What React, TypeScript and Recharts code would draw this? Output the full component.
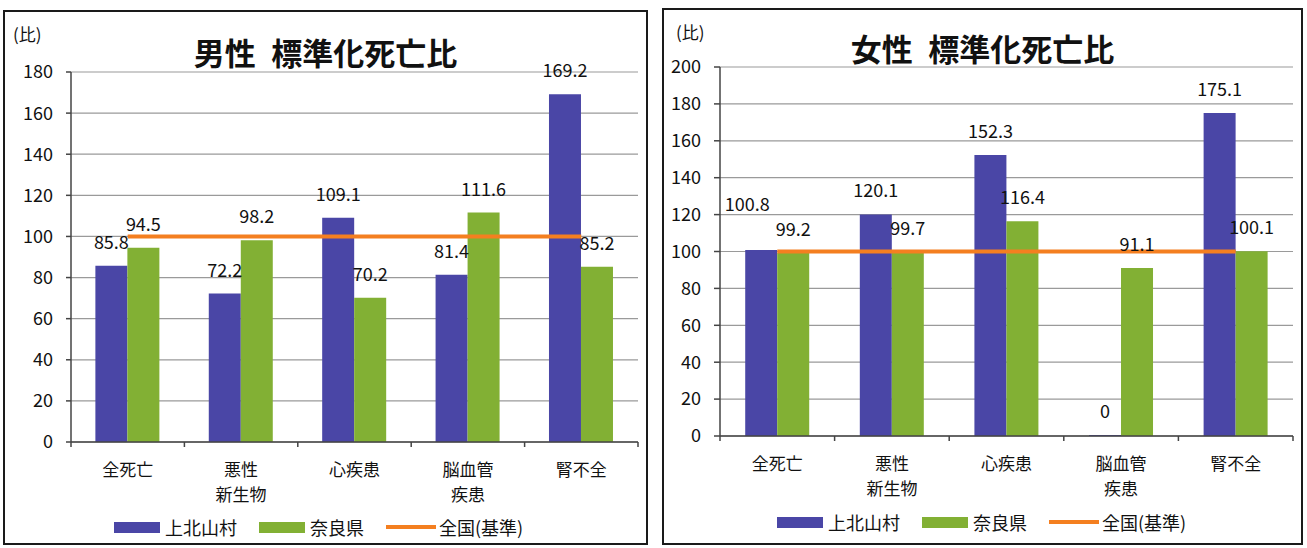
import React from 'react';
import { ComposedChart, Bar, Line, XAxis, YAxis, CartesianGrid, LabelList } from 'recharts';

const categories = ['全死亡', '悪性\n新生物', '心疾患', '脳血管\n疾患', '腎不全'];
const seriesNames = ['上北山村', '奈良県', '全国(基準)'];
const maleVillage = [85.8, 72.2, 109.1, 81.4, 169.2];
const maleNara = [94.5, 98.2, 70.2, 111.6, 85.2];
const femaleVillage = [100.8, 120.1, 152.3, 0, 175.1];
const femaleNara = [99.2, 99.7, 116.4, 91.1, 100.1];
const nationalBase = [100, 100, 100, 100, 100];
const maleTicks = [0, 20, 40, 60, 80, 100, 120, 140, 160, 180];
const femaleTicks = [0, 20, 40, 60, 80, 100, 120, 140, 160, 180, 200];
const maleTitle = '男性\u2002標準化死亡比';
const femaleTitle = '女性\u2002標準化死亡比';
const unitLabel = '(比)';

const BLUE = '#4a46a6';
const GREEN = '#82b034';
const ORANGE = '#f47f20';
const FONT = '"Noto Sans CJK JP", "Noto Sans", sans-serif';

const buildData = (v: number[], n: number[]) =>
  categories.map((c, i) => ({ name: c, village: v[i], nara: n[i], base: nationalBase[i] }));

type Nudge = { [index: number]: { dx: number; dy: number } };

type Cfg = {
  left: number; top: number; width: number; height: number;
  margin: { top: number; right: number; bottom: number; left: number };
  yWidth: number; tickSize: number; tickMargin: number; gap: string;
  title: string; titleTop: number; unitLeft: number; unitTop: number;
  legendLeft: number; legendTop: number;
  villageNudge: Nudge;
  data: any[]; ticks: number[];
};

const makeXTick = (step: number) => (props: any) => {
  const { x, y, payload, index } = props;
  const lines = String(payload.value).split('\n');
  return (
    <g>
      <line x1={x - step / 2} x2={x - step / 2} y1={y} y2={y + 5} stroke="#444" strokeWidth={1.5} />
      {index === categories.length - 1 && (
        <line x1={x + step / 2} x2={x + step / 2} y1={y} y2={y + 5} stroke="#444" strokeWidth={1.5} />
      )}
      {lines.map((l, i) => (
        <text key={i} x={x} y={y + 34 + i * 25} textAnchor="middle" fontSize={17} fill="#111" fontFamily={FONT}>{l}</text>
      ))}
    </g>
  );
};

const makeBarLabel = (nudge: Nudge) => (props: any) => {
  const { x, y, width, value, index } = props;
  const n = nudge[index] || { dx: 0, dy: 0 };
  return (
    <text x={x + width / 2 + n.dx} y={y - 17 + n.dy} textAnchor="middle" fontSize={18} fill="#111" fontFamily={FONT}>
      {value}
    </text>
  );
};

const LegendRow = ({ left, top }: { left: number; top: number }) => {
  const items = [
    { name: seriesNames[0], color: BLUE, kind: 'rect' },
    { name: seriesNames[1], color: GREEN, kind: 'rect' },
    { name: seriesNames[2], color: ORANGE, kind: 'line' },
  ];
  return (
    <div style={{ position: 'absolute', left, top, display: 'flex', alignItems: 'center', fontFamily: FONT, fontSize: 18, color: '#111', whiteSpace: 'nowrap' }}>
      {items.map((it, i) => (
        <div key={i} style={{ display: 'flex', alignItems: 'center', marginRight: 22 }}>
          {it.kind === 'rect' ? (
            <div style={{ width: 46, height: 11, background: it.color, marginRight: 5 }} />
          ) : (
            <div style={{ width: 50, height: 4, background: it.color, marginRight: 3 }} />
          )}
          <span>{it.name}</span>
        </div>
      ))}
    </div>
  );
};

const Panel = ({ c }: { c: Cfg }) => {
  const plotW = c.width - c.margin.left - c.margin.right - c.yWidth;
  const step = plotW / categories.length;
  const max = c.ticks[c.ticks.length - 1];
  return (
    <>
      <div style={{ position: 'absolute', left: c.left, top: c.top }}>
        <ComposedChart width={c.width} height={c.height} data={c.data} margin={c.margin} barCategoryGap={c.gap} barGap={0}>
          <CartesianGrid vertical={false} stroke="#9a9a9a" strokeWidth={1.2} />
          <XAxis dataKey="name" interval={0} tickLine={false} tickSize={0} tickMargin={0} height={60}
            axisLine={{ stroke: '#444', strokeWidth: 1.5 }} tick={makeXTick(step)} />
          <YAxis width={c.yWidth} domain={[0, max]} ticks={c.ticks} interval={0} tickSize={c.tickSize} tickMargin={c.tickMargin}
            axisLine={{ stroke: '#444', strokeWidth: 1.5 }} tickLine={{ stroke: '#444', strokeWidth: 1.5 }}
            tick={{ fontSize: 18, fill: '#111', fontFamily: FONT }} />
          <Bar dataKey="village" name={seriesNames[0]} fill={BLUE} minPointSize={1} isAnimationActive={false}>
            <LabelList dataKey="village" content={makeBarLabel(c.villageNudge)} />
          </Bar>
          <Bar dataKey="nara" name={seriesNames[1]} fill={GREEN} isAnimationActive={false}>
            <LabelList dataKey="nara" content={makeBarLabel({})} />
          </Bar>
          <Line dataKey="base" name={seriesNames[2]} stroke={ORANGE} strokeWidth={4} dot={false} activeDot={false} isAnimationActive={false} />
        </ComposedChart>
      </div>
      <div style={{ position: 'absolute', left: c.left, top: c.titleTop, width: c.width, textAlign: 'center', fontFamily: FONT, fontWeight: 700, fontSize: 31, color: '#111', whiteSpace: 'pre' }}>
        {c.title}
      </div>
      <div style={{ position: 'absolute', left: c.unitLeft, top: c.unitTop, fontFamily: FONT, fontSize: 17, color: '#111' }}>
        {unitLabel}
      </div>
      <LegendRow left={c.legendLeft} top={c.legendTop} />
      <div style={{ position: 'absolute', left: c.left, top: c.top, width: c.width, height: c.height, border: '2px solid #1a1a1a', boxSizing: 'border-box', pointerEvents: 'none' }} />
    </>
  );
};

const maleCfg: Cfg = {
  left: 3, top: 10, width: 645, height: 535,
  margin: { top: 62, right: 10, bottom: 43, left: 0 },
  yWidth: 68, tickSize: 5, tickMargin: 13, gap: '21.5%',
  title: maleTitle, titleTop: 29, unitLeft: 13, unitTop: 21,
  legendLeft: 114, legendTop: 514,
  villageNudge: {},
  data: buildData(maleVillage, maleNara), ticks: maleTicks,
};

const femaleCfg: Cfg = {
  left: 662, top: 8, width: 641, height: 537,
  margin: { top: 59, right: 10, bottom: 49, left: 0 },
  yWidth: 58, tickSize: 6, tickMargin: 13, gap: '22%',
  title: femaleTitle, titleTop: 25, unitLeft: 676, unitTop: 19,
  legendLeft: 777, legendTop: 509,
  villageNudge: { 0: { dx: -14, dy: -22 } },
  data: buildData(femaleVillage, femaleNara), ticks: femaleTicks,
};

export default function App() {
  return (
    <div style={{ position: 'absolute', left: 0, top: 0, width: 1307, height: 548, background: '#ffffff', overflow: 'hidden' }}>
      <Panel c={maleCfg} />
      <Panel c={femaleCfg} />
    </div>
  );
}
